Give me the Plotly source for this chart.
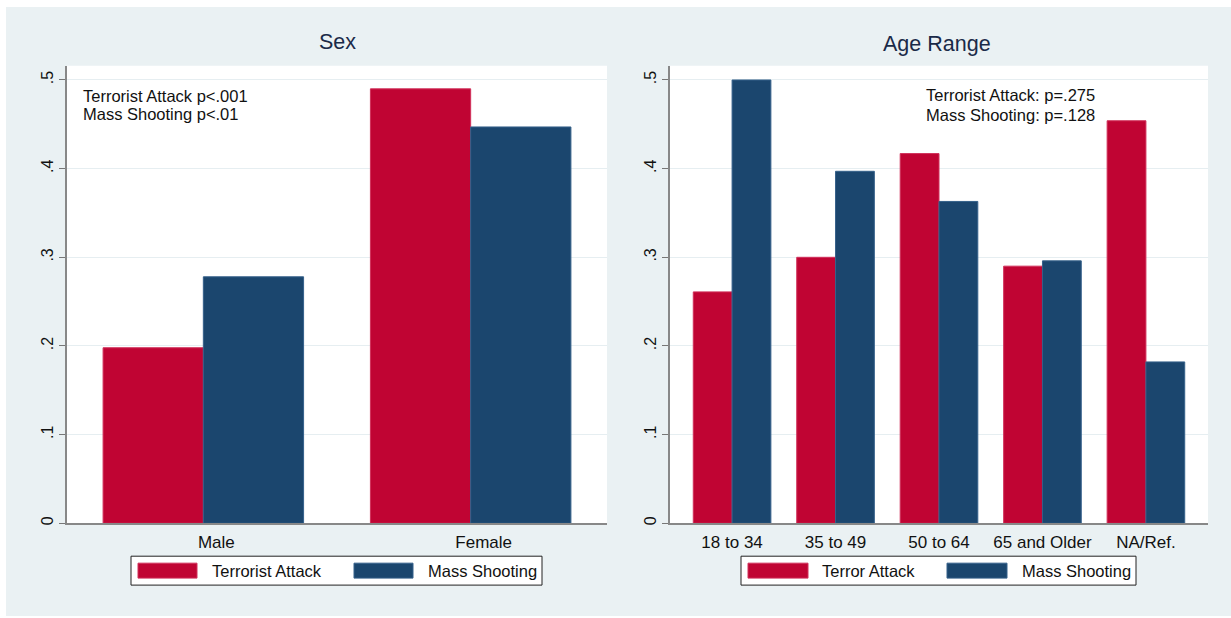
import plotly.graph_objects as go

# ---- data ----
sex_categories = ["Male", "Female"]
sex_terror = [0.198, 0.490]
sex_shooting = [0.278, 0.447]
sex_series_names = ["Terrorist Attack", "Mass Shooting"]
sex_notes = ["Terrorist Attack p<.001", "Mass Shooting p<.01"]

age_categories = ["18 to 34", "35 to 49", "50 to 64", "65 and Older", "NA/Ref."]
age_terror = [0.261, 0.300, 0.417, 0.290, 0.454]
age_shooting = [0.500, 0.397, 0.363, 0.296, 0.182]
age_series_names = ["Terror Attack", "Mass Shooting"]
age_notes = ["Terrorist Attack: p=.275", "Mass Shooting: p=.128"]

y_tickvals = [0, 0.1, 0.2, 0.3, 0.4, 0.5]
y_ticktext = ["0", ".1", ".2", ".3", ".4", ".5"]
panel_titles = ["Sex", "Age Range"]

# ---- style ----
W, H = 1231, 618
RED = "#C00433"
BLUE = "#1B466E"
RED_EDGE = "#D0305A"
BLUE_EDGE = "#35608A"
BG = "#EAF1F3"
FONT = "Liberation Sans, Arial, sans-serif"
TXT = "#111111"


def px(x):
    return x / W


def py(y):
    return 1 - y / H


x1d = [px(67), px(607)]
x2d = [px(670), px(1208)]
yd = [py(525), py(66)]

fig = go.Figure()
series_colors = [(RED, RED_EDGE), (BLUE, BLUE_EDGE)]
for vals, name, (c, e) in zip([sex_terror, sex_shooting], sex_series_names, series_colors):
    fig.add_trace(go.Bar(x=sex_categories, y=vals, name=name, xaxis="x", yaxis="y",
                         marker=dict(color=c, line=dict(color=e, width=1)), showlegend=False))
for vals, name, (c, e) in zip([age_terror, age_shooting], age_series_names, series_colors):
    fig.add_trace(go.Bar(x=age_categories, y=vals, name=name, xaxis="x2", yaxis="y2",
                         marker=dict(color=c, line=dict(color=e, width=1)), showlegend=False))

yaxis_common = dict(range=[0, 0.516], tickvals=y_tickvals, ticktext=y_ticktext,
                    tickangle=-90, ticks="outside", ticklen=6, tickcolor="#777777",
                    showline=True, linecolor="#888888", linewidth=1.5,
                    showgrid=True, gridcolor="#E6EEF1", gridwidth=1, zeroline=False,
                    tickfont=dict(family=FONT, size=16, color=TXT), domain=yd,
                    fixedrange=True)
xaxis_common = dict(type="category", ticks="", showline=True, linecolor="#888888",
                    linewidth=1.5, showgrid=False, zeroline=False, ticklabelstandoff=3,
                    tickfont=dict(family=FONT, size=17, color=TXT), fixedrange=True)

shapes = [
    dict(type="rect", xref="paper", yref="paper", x0=px(6), x1=1, y0=0, y1=py(7),
         fillcolor=BG, line=dict(width=0), layer="below"),
    dict(type="rect", xref="paper", yref="paper", x0=x1d[0], x1=x1d[1], y0=yd[0], y1=yd[1],
         fillcolor="white", line=dict(width=0), layer="below"),
    dict(type="rect", xref="paper", yref="paper", x0=x2d[0], x1=x2d[1], y0=yd[0], y1=yd[1],
         fillcolor="white", line=dict(width=0), layer="below"),
]

annotations = []


def add_text(text, x, y, size=16.5, xanchor="left", color=TXT):
    annotations.append(dict(text=text, x=px(x), y=py(y), xref="paper", yref="paper",
                            xanchor=xanchor, yanchor="middle", showarrow=False,
                            font=dict(family=FONT, size=size, color=color)))


# panel titles
add_text(panel_titles[0], 337, 42, size=21.5, xanchor="center", color="#1A2A48")
add_text(panel_titles[1], 937, 44, size=21.5, xanchor="center", color="#1A2A48")

# p-value notes
add_text(sex_notes[0], 81, 96)
add_text(sex_notes[1], 81, 114)
add_text(age_notes[0], 1010, 95, xanchor="center")
add_text(age_notes[1], 1010, 115, xanchor="center")


def add_legend(box, keys, texts, names):
    bx0, bx1 = box
    shapes.append(dict(type="rect", xref="paper", yref="paper", x0=px(bx0), x1=px(bx1),
                       y0=py(587), y1=py(558), fillcolor="white",
                       line=dict(color="#222222", width=1)))
    for (k0, k1), tx, name, (c, e) in zip(keys, texts, names, series_colors):
        shapes.append(dict(type="rect", xref="paper", yref="paper", x0=px(k0), x1=px(k1),
                           y0=py(580), y1=py(565), fillcolor=c, line=dict(color=e, width=1)))
        add_text(name, tx - 1, 573)


add_legend((131, 542), [(138, 197), (354, 413)], [211, 427], sex_series_names)
add_legend((741, 1136), [(748, 808), (947, 1007)], [821, 1021], age_series_names)

fig.update_layout(
    width=W, height=H, margin=dict(l=0, r=0, t=0, b=0),
    paper_bgcolor="white", plot_bgcolor="rgba(0,0,0,0)",
    barmode="group", bargap=0.25, bargroupgap=0,
    xaxis=dict(xaxis_common, domain=x1d, range=[-0.51, 1.51], anchor="y", ticklabelshift=13),
    yaxis=dict(yaxis_common, anchor="x"),
    xaxis2=dict(xaxis_common, domain=x2d, range=[-0.6, 4.6], anchor="y2"),
    yaxis2=dict(yaxis_common, anchor="x2"),
    shapes=shapes, annotations=annotations, showlegend=False,
)

fig.write_html("out.html")
